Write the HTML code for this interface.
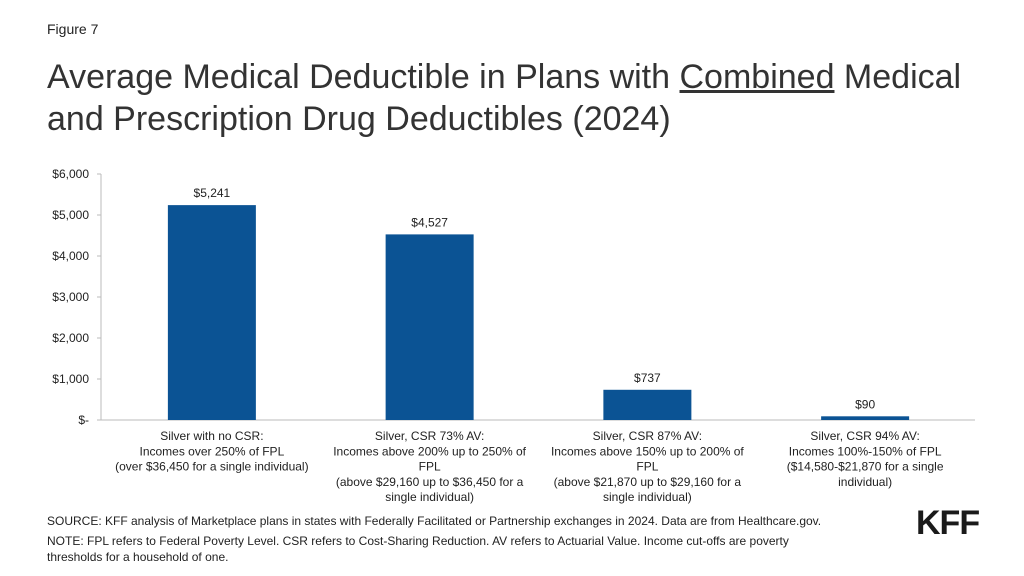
<!DOCTYPE html>
<html><head><meta charset="utf-8">
<style>
body{margin:0;width:1024px;height:576px;background:#fff;font-family:"Liberation Sans",Arial,sans-serif;overflow:hidden;position:relative}
.abs{position:absolute}
</style></head>
<body>
<div class="abs" style="left:47px;top:21px;font-size:14px;color:#222">Figure 7</div>
<div class="abs" style="left:47px;top:56px;font-size:34px;line-height:42px;color:#333;width:980px;white-space:nowrap">Average Medical Deductible in Plans with <u>Combined</u> Medical<br>and Prescription Drug Deductibles (2024)</div>
<svg class="abs" style="left:0;top:0" width="1024" height="576">
<g id="axes"></g><g id="bars"></g>
</svg>
<div class="abs" style="left:47px;top:514px;font-size:12px;color:#222">SOURCE: KFF analysis of Marketplace plans in states with Federally Facilitated or Partnership exchanges in 2024. Data are from Healthcare.gov.</div>
<div class="abs" style="left:47px;top:533px;font-size:12px;line-height:16px;color:#222;width:800px">NOTE: FPL refers to Federal Poverty Level. CSR refers to Cost-Sharing Reduction. AV refers to Actuarial Value. Income cut-offs are poverty thresholds for a household of one.</div>
<div class="abs" style="left:916px;top:504px;font-size:34px;font-weight:bold;color:#1a1a1a;letter-spacing:-1px">KFF</div>
<script>
const categories=[["Silver with no CSR:","Incomes over 250% of FPL","(over $36,450 for a single individual)"],["Silver, CSR 73% AV:","Incomes above 200% up to 250% of","FPL","(above $29,160 up to $36,450 for a","single individual)"],["Silver, CSR 87% AV:","Incomes above 150% up to 200% of","FPL","(above $21,870 up to $29,160 for a","single individual)"],["Silver, CSR 94% AV:","Incomes 100%-150% of FPL","($14,580-$21,870 for a single","individual)"]];
const values=[5241,4527,737,90];
const valueLabels=["$5,241","$4,527","$737","$90"];
const ticks=[0,1000,2000,3000,4000,5000,6000];
const tickLabels=["$-","$1,000","$2,000","$3,000","$4,000","$5,000","$6,000"];
const NS="http://www.w3.org/2000/svg";
const x0=101,x1=972,y0=420,y1=174,max=6000;
const y=v=>y0-(v/max)*(y0-y1);
const bw=(x1-x0)/categories.length;
function mk(t,a,p,txt){const e=document.createElementNS(NS,t);for(const k in a)e.setAttribute(k,a[k]);if(txt!==undefined)e.textContent=txt;p.appendChild(e);return e;}
const ax=document.getElementById('axes'),bs=document.getElementById('bars');
const yl=mk('line',{x1:x0,y1:y1,x2:x0,y2:y0,stroke:'#bbb'},ax);

const xl=mk('line',{x1:x0,y1:y0,x2:x1+3,y2:y0,stroke:'#bbb'},ax);

ticks.forEach((t,i)=>{
 mk('line',{x1:x0-4,y1:y(t),x2:x0,y2:y(t),stroke:'#bbb'},ax);
 const e=mk('text',{x:x0-12,y:y(t)+4,'text-anchor':'end','font-size':12,fill:'#222'},ax,tickLabels[i]);
 
});
values.forEach((v,i)=>{
 const cx=x0+bw*(i+0.5)+2;
 const r=mk('rect',{x:cx-44,y:y(v),width:88,height:y0-y(v),fill:'#0b5394'},bs);
 
 const l=mk('text',{x:cx,y:y(v)-8,'text-anchor':'middle','font-size':12,fill:'#222'},bs,valueLabels[i]);
 
 categories[i].forEach((s,j)=>{
  const c=mk('text',{x:cx,y:y0+20+j*15.3,'text-anchor':'middle','font-size':12,fill:'#222'},bs,s);
  
 });
});
</script>
</body></html>
